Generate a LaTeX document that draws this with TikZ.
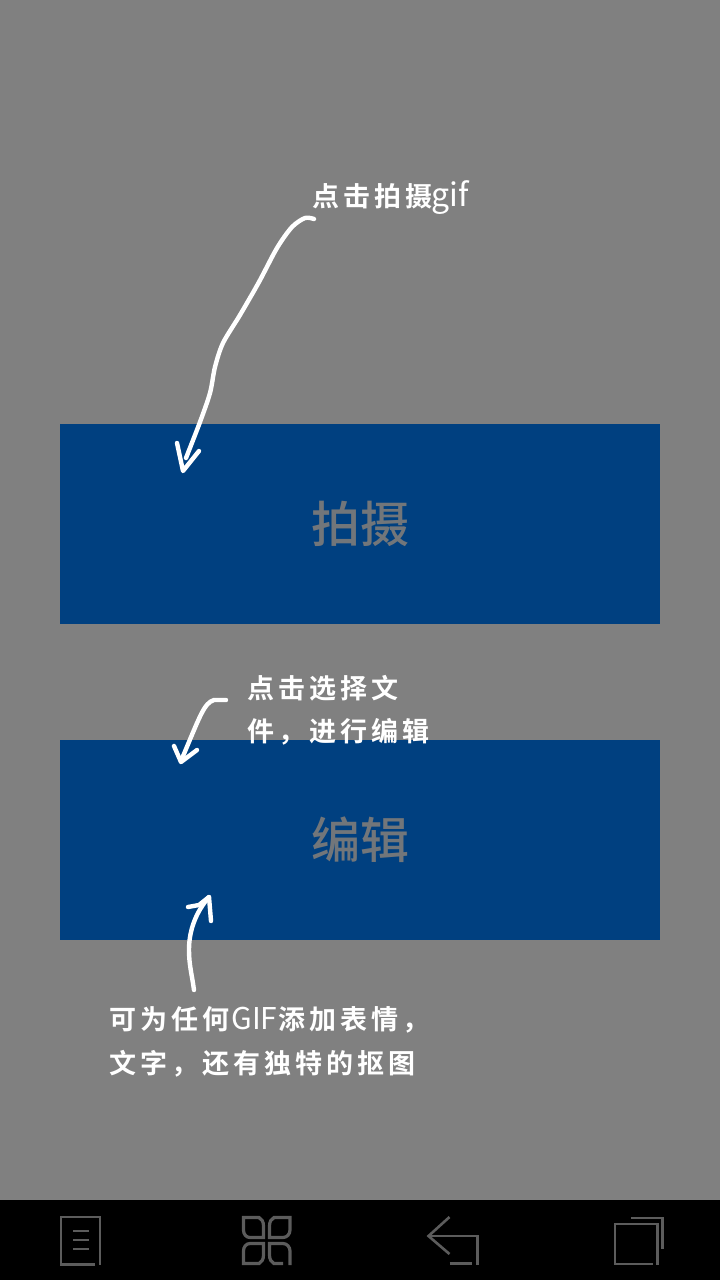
\documentclass[tikz,border=0pt]{standalone}
\usepackage{fontspec}
\newfontfamily\cjkb[LetterSpace=15]{Noto Sans CJK SC Bold}
\newfontfamily\cjkc{Noto Sans CJK SC Medium}
\newfontfamily\latr{Noto Sans CJK SC}
\newcommand{\plainlat}[2]{{\latr\fontsize{#1}{#1}\selectfont #2}}
\definecolor{bgc}{HTML}{808080}
\definecolor{btnc}{HTML}{004080}
\definecolor{btnt}{HTML}{72767A}
\definecolor{iconc}{HTML}{5C5C5C}
\tikzset{
  btn/.style={fill=btnc,draw=none,minimum width=600pt,minimum height=200pt,inner sep=0pt,text=btnt,font=\cjkc\fontsize{49pt}{49pt}\selectfont},
  note/.style={text=white,anchor=base west,inner sep=0pt,font=\cjkb\fontsize{27pt}{27pt}\selectfont},
  sketch/.style={draw=white,line width=4.4pt,line cap=round,line join=round},
  icon/.style={draw=iconc,line width=2.6pt,line join=miter}
}
\begin{document}
\begin{tikzpicture}[x=1pt,y=-1pt]
\useasboundingbox (0,0) rectangle (720,1280);
\fill[bgc] (0,0) rectangle (720,1280);
\fill[black] (0,1200) rectangle (720,1280);
\node[btn] (shoot) at (360,524) {\raisebox{-1pt}{拍摄}};
\node[btn] (edit) at (360,840) {\raisebox{-1pt}{编辑}};
\node[note] (n1) at (312,206) {点击拍摄\hspace{-1pt}\plainlat{32pt}{gif}};
\node[note] (n2a) at (247,698) {点击选择文};
\node[note] (n2b) at (247,741) {件，进行编辑};
\node[note] (n3a) at (109,1029) {可为任何\hspace{2pt}\plainlat{30pt}{GIF}\hspace{1pt}添加表情，};
\node[note] (n3b) at (109,1073) {文字，还有独特的抠图};
% hand-drawn arrows
\coordinate (a1s) at (314,219);
\coordinate (a1e) at (186,458);
\draw[sketch] plot[smooth,tension=0.5] coordinates {(a1s) (305,218) (292,227) (277,248) (259,282) (240,315) (223,343) (215,367) (210,393) (200,422) (a1e)};
\draw[sketch] (177,443) -- (183,471) -- (199,451);
\coordinate (a2s) at (226,700);
\coordinate (a2e) at (181,761);
\draw[sketch] (a2s) -- (214,700) .. controls (204,703) and (200,716) .. (a2e);
\draw[sketch] (174,746) -- (181,762) -- (197,750);
\coordinate (a3s) at (194,990);
\coordinate (a3e) at (209,897);
\draw[sketch] (a3s) .. controls (192,975) and (189,965) .. (189,950)
  .. controls (189,930) and (196,912) .. (a3e);
\draw[sketch] (188,907) -- (199,905) -- (209,897) -- (211,921);
% nav icons
\draw[icon] (95,1264.5) -- (61,1264.5) -- (61,1217) -- (100,1217) -- (100,1265);
\draw[icon] (73,1231) -- (89,1231) (73,1240) -- (89,1240) (73,1249) -- (89,1249);
\draw[icon,line width=3.2pt] (243.5,1217.5) -- (259,1217.5) .. controls (262,1219) and (263.5,1222) .. (263.5,1226) -- (263.5,1237.5) -- (250,1237.5) .. controls (246,1237.5) and (243.5,1234) .. (243.5,1230) -- cycle;
\draw[icon,line width=3.2pt] (290,1217.5) -- (274,1217.5) .. controls (271,1219) and (269.5,1222) .. (269.5,1226) -- (269.5,1237.5) -- (283,1237.5) .. controls (287,1237.5) and (290,1234) .. (290,1230) -- cycle;
\draw[icon,line width=3.2pt] (243.5,1263.5) -- (259,1263.5) .. controls (262,1262) and (263.5,1259) .. (263.5,1255) -- (263.5,1243.5) -- (250,1243.5) .. controls (246,1243.5) and (243.5,1247) .. (243.5,1251) -- cycle;
\draw[icon,line width=3.2pt] (283,1263.5) -- (274,1263.5) .. controls (271,1262) and (269.5,1259) .. (269.5,1255) -- (269.5,1243.5) -- (283,1243.5) .. controls (287,1243.5) and (290,1247) .. (290,1251) -- (290,1265);
\draw[icon] (449.5,1217) -- (428.5,1236) -- (449.5,1254);
\draw[icon] (428.5,1236) -- (477.5,1236) -- (477.5,1265);
\draw[icon,line width=3pt] (449.5,1263) -- (472,1263);
\draw[icon] (653,1264) -- (615,1264) -- (615,1224) -- (657.5,1224) -- (657.5,1265);
\draw[icon] (631,1218) -- (662.5,1218) -- (662.5,1249);
\end{tikzpicture}
\end{document}
